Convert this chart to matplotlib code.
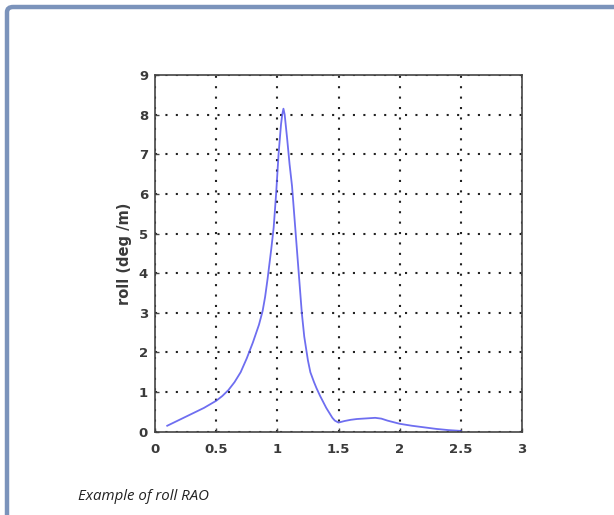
import matplotlib.pyplot as plt
import numpy as np
from matplotlib.patches import FancyBboxPatch

freq = np.array([0.1, 0.2, 0.3, 0.4, 0.5, 0.55, 0.6, 0.65, 0.7, 0.75, 0.8, 0.85, 0.88, 0.9,
                 0.92, 0.95, 0.97, 0.99, 1.01, 1.03, 1.04, 1.05, 1.06, 1.08, 1.1, 1.12,
                 1.15, 1.17, 1.2, 1.22, 1.25, 1.27, 1.3, 1.32, 1.35, 1.4, 1.42, 1.45,
                 1.47, 1.5, 1.55, 1.6, 1.65, 1.7, 1.75, 1.8, 1.85, 1.9, 2.0, 2.1, 2.2,
                 2.3, 2.4, 2.5])
roll = np.array([0.15, 0.3, 0.45, 0.6, 0.78, 0.9, 1.05, 1.25, 1.5, 1.85, 2.25, 2.7, 3.05, 3.4,
                 3.85, 4.6, 5.15, 6.0, 7.0, 7.75, 8.0, 8.15, 8.0, 7.4, 6.75, 6.2,
                 5.0, 4.2, 3.0, 2.4, 1.8, 1.5, 1.25, 1.1, 0.9, 0.6, 0.5, 0.35,
                 0.28, 0.23, 0.27, 0.3, 0.32, 0.33, 0.34, 0.35, 0.33, 0.28, 0.2, 0.15, 0.11,
                 0.07, 0.04, 0.02])
xticks = [0, 0.5, 1, 1.5, 2, 2.5, 3]
xticklabels = ['0', '0.5', '1', '1.5', '2', '2.5', '3']
yticks = list(range(10))

fig = plt.figure(figsize=(6.14, 5.15), dpi=100)

# outer frame (only left/top edges visible)
frame = FancyBboxPatch((7 / 614, -0.1), 1.2, (515 - 7) / 515 + 0.1,
                       boxstyle='round,pad=0,rounding_size=0.01',
                       transform=fig.transFigure, facecolor='none',
                       edgecolor='#7b93bb', linewidth=3.2, clip_on=False)
fig.patches.append(frame)

ax = fig.add_axes([155 / 614, (515 - 431.7) / 515, (522 - 155) / 614, (431.7 - 75) / 515])
ax.plot(freq, roll, color='#5555ee', linewidth=1.3, alpha=0.85)

ax.set_xlim(0, 3)
ax.set_ylim(0, 9)
ax.set_xticks(xticks)
ax.set_xticklabels(xticklabels)
ax.set_yticks(yticks)
ax.grid(True, color='#222222', linestyle=(0, (1, 4)), linewidth=1.5)
ax.tick_params(direction='in', length=3, width=1, colors='#444444', labelsize=9.5)
ax.tick_params(axis='x', pad=8)
ax.tick_params(axis='y', pad=5)
for lab in ax.get_xticklabels() + ax.get_yticklabels():
    lab.set_fontweight('bold')
    lab.set_color('#3a3a3a')
for sp in ax.spines.values():
    sp.set_color('#444444')
    sp.set_linewidth(1.2)
ax.set_ylabel('roll (deg /m)', fontsize=10.5, fontweight='bold', color='#3a3a3a', labelpad=5)

fig.text(78 / 614, 1 - 496 / 515, 'Example of roll RAO', fontsize=10.8, style='italic',
         family='Open Sans', color='#222222', va='center')

fig.savefig('out.png', dpi=100)
